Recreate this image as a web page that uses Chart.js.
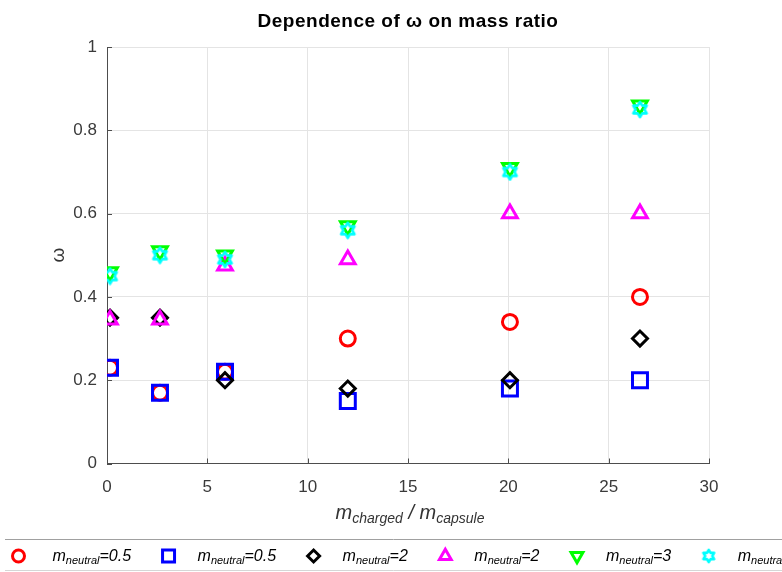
<!DOCTYPE html>
<html>
<head>
<meta charset="utf-8">
<script src="https://cdn.jsdelivr.net/npm/chart.js@4.4.0/dist/chart.umd.min.js"></script>
<style>
  html, body { margin: 0; padding: 0; background: #fff; overflow: hidden; }
  #wrap { position: relative; width: 782px; height: 572px; }
</style>
</head>
<body>
<div id="wrap"><canvas id="omegaChart" width="782" height="572"></canvas></div>
<script>
// values
const massRatio = [0.15, 2.64, 5.88, 12.0, 20.08, 26.56];
const omegaCircle = [0.23, 0.17, 0.22, 0.30, 0.34, 0.40];
const omegaSquare = [0.23, 0.17, 0.22, 0.15, 0.18, 0.20];
const omegaDiamond = [0.35, 0.35, 0.20, 0.18, 0.20, 0.30];
const omegaTriUp = [0.345, 0.345, 0.475, 0.49, 0.60, 0.60];
const omegaTriDown = [0.46, 0.51, 0.50, 0.57, 0.71, 0.86];
const omegaHex = [0.45, 0.50, 0.49, 0.56, 0.70, 0.85];
const neutralMass = ['0.5', '0.5', '2', '2', '3', '3'];
const xTicks = [0, 5, 10, 15, 20, 25, 30];
const yTicks = [0, 0.2, 0.4, 0.6, 0.8, 1];

const FONT = "'Liberation Sans', Arial, Helvetica, sans-serif";

function makeHexagram(color, size, lw) {
  const c = document.createElement('canvas');
  c.width = c.height = size;
  const g = c.getContext('2d');
  const cx = size / 2, cy = size / 2, R = size / 2 - lw / 2 - 0.5, r = R * 0.577;
  g.beginPath();
  for (let k = 0; k < 12; k++) {
    const a = -Math.PI / 2 + k * Math.PI / 6;
    const rad = k % 2 === 0 ? R : r;
    const px = cx + Math.cos(a) * rad, py = cy + Math.sin(a) * rad;
    if (k === 0) g.moveTo(px, py); else g.lineTo(px, py);
  }
  g.closePath();
  g.strokeStyle = color;
  g.lineWidth = lw;
  g.lineJoin = 'round';
  g.stroke();
  return c;
}

const hexagram = makeHexagram('#00ffff', 19, 2.6);
const hexagramSmall = makeHexagram('#00ffff', 16, 2.6);

function pts(ys) {
  return massRatio.map((x, i) => ({ x: x, y: ys[i] }));
}

const markers = [
  { data: omegaCircle, color: '#ff0000', style: 'circle', legendStyle: 'circle', radius: 7.5, rotation: 0 },
  { data: omegaSquare, color: '#0000ff', style: 'rect', legendStyle: 'rect', radius: 10.6, rotation: 0 },
  { data: omegaDiamond, color: '#000000', style: 'rectRot', legendStyle: 'rectRot', radius: 7.5, rotation: 0 },
  { data: omegaTriUp, color: '#ff00ff', style: 'triangle', legendStyle: 'triangle', radius: 8.5, rotation: 0 },
  { data: omegaTriDown, color: '#00ff00', style: 'triangle', legendStyle: 'triangle', radius: 8.5, rotation: 180 },
  { data: omegaHex, color: '#00ffff', style: hexagram, legendStyle: hexagramSmall, radius: 9, rotation: 0 }
];

const datasets = markers.map((m, i) => ({
  label: 'm_neutral=' + neutralMass[i],
  data: pts(m.data),
  showLine: false,
  pointStyle: m.style,
  pointRadius: m.radius,
  pointHoverRadius: m.radius,
  pointRotation: m.rotation,
  pointBorderWidth: 3,
  pointBorderColor: m.color,
  pointBackgroundColor: 'rgba(0,0,0,0)',
  borderColor: m.color,
  backgroundColor: 'rgba(0,0,0,0)',
  order: 6 - i
}));

// text with a subscript: parts = [[text, size, shift]]
function drawRich(ctx, parts, x, y, align) {
  let total = 0;
  parts.forEach(p => {
    ctx.font = 'italic ' + p[1] + 'px ' + FONT;
    p.w = ctx.measureText(p[0]).width;
    total += p.w;
  });
  let cx = align === 'center' ? x - total / 2 : x;
  ctx.textAlign = 'left';
  ctx.textBaseline = 'alphabetic';
  parts.forEach(p => {
    ctx.font = 'italic ' + p[1] + 'px ' + FONT;
    ctx.fillText(p[0], cx, y + (p[2] ? p[2] : 0));
    cx += p.w;
  });
  return total;
}

const decorations = {
  id: 'decorations',
  beforeDatasetsDraw(chart) {
    // inward tick marks
    const ctx = chart.ctx;
    const xs = chart.scales.x, ys = chart.scales.y;
    const area = chart.chartArea;
    ctx.save();
    ctx.strokeStyle = '#4d4d4d';
    ctx.lineWidth = 1;
    ctx.beginPath();
    xTicks.forEach(v => {
      const px = Math.round(xs.getPixelForValue(v)) + 0.5;
      ctx.moveTo(px, area.bottom);
      ctx.lineTo(px, area.bottom - 5);
    });
    yTicks.forEach(v => {
      const py = Math.round(ys.getPixelForValue(v)) + 0.5;
      ctx.moveTo(area.left, py);
      ctx.lineTo(area.left + 5, py);
    });
    ctx.stroke();
    ctx.restore();
  },
  afterDraw(chart) {
    const ctx = chart.ctx;
    ctx.save();
    ctx.fillStyle = '#000';
    ctx.font = 'bold 19px ' + FONT;
    if ('letterSpacing' in ctx) ctx.letterSpacing = '0.5px';
    ctx.textAlign = 'center';
    ctx.textBaseline = 'alphabetic';
    ctx.fillText('Dependence of \u03c9 on mass ratio', 408, 27);
    if ('letterSpacing' in ctx) ctx.letterSpacing = '0px';

    // x axis title
    ctx.fillStyle = '#333';
    drawRich(ctx, [['m', 20], ['charged', 14, 4], [' / ', 20], ['m', 20], ['capsule', 14, 4]], 410, 519, 'center');

    // y axis title
    ctx.save();
    ctx.translate(64, 255);
    ctx.rotate(-Math.PI / 2);
    ctx.font = '19px ' + FONT;
    ctx.textAlign = 'center';
    ctx.fillText('\u03c9', 0, 0);
    ctx.restore();

    // legend box
    ctx.lineWidth = 1;
    ctx.strokeStyle = '#a0a0a0';
    ctx.beginPath();
    ctx.moveTo(5, 539.5); ctx.lineTo(782, 539.5);
    ctx.stroke();
    ctx.strokeStyle = '#d6d6d6';
    ctx.beginPath();
    ctx.moveTo(5, 570.5); ctx.lineTo(782, 570.5);
    ctx.stroke();

    // legend items
    let lx = 18.5;
    const ly = 556;
    chart.data.datasets.forEach((ds, i) => {
      const m = markers[i];
      ctx.strokeStyle = m.color;
      ctx.fillStyle = 'rgba(0,0,0,0)';
      ctx.lineWidth = 3;
      const opts = { pointStyle: m.legendStyle, rotation: m.rotation, radius: m.radius * 0.8, borderWidth: 3 };
      if (Chart.helpers && Chart.helpers.drawPoint) {
        Chart.helpers.drawPoint(ctx, opts, lx, ly);
      } else {
        ctx.beginPath(); ctx.arc(lx, ly, 6, 0, Math.PI * 2); ctx.stroke();
      }
      ctx.fillStyle = '#000';
      const tx = lx + (i === 0 ? 34 : 29);
      const w = drawRich(ctx, [['m', 16], ['neutral', 11, 3], ['=' + neutralMass[i], 16]], tx, 561, 'left');
      lx = tx + w + 37.5;
    });
    ctx.restore();
  }
};

new Chart(document.getElementById('omegaChart').getContext('2d'), {
  type: 'scatter',
  data: { datasets: datasets },
  plugins: [decorations],
  options: {
    responsive: false,
    animation: false,
    events: [],
    layout: { padding: { left: 0, right: 73, top: 47, bottom: 78.5 } },
    plugins: {
      legend: { display: false },
      title: { display: false },
      tooltip: { enabled: false }
    },
    scales: {
      x: {
        type: 'linear',
        min: 0,
        max: 30,
        afterBuildTicks: s => { s.ticks = xTicks.map(v => ({ value: v })); },
        afterFit: s => { s.height = 30; },
        grid: { color: '#e4e4e4', drawTicks: false, lineWidth: 1 },
        border: { color: '#4d4d4d', width: 1 },
        ticks: {
          padding: 14,
          color: '#3a3a3a',
          maxRotation: 0,
          font: { family: FONT, size: 17 },
          callback: v => String(v)
        }
      },
      y: {
        type: 'linear',
        min: 0,
        max: 1,
        afterBuildTicks: s => { s.ticks = yTicks.map(v => ({ value: v })); },
        afterFit: s => { s.width = 107; },
        grid: { color: '#e4e4e4', drawTicks: false, lineWidth: 1 },
        border: { color: '#4d4d4d', width: 1 },
        ticks: {
          padding: 10,
          color: '#3a3a3a',
          font: { family: FONT, size: 17 },
          callback: v => String(Math.round(v * 10) / 10)
        }
      }
    }
  }
});
</script>
</body>
</html>
